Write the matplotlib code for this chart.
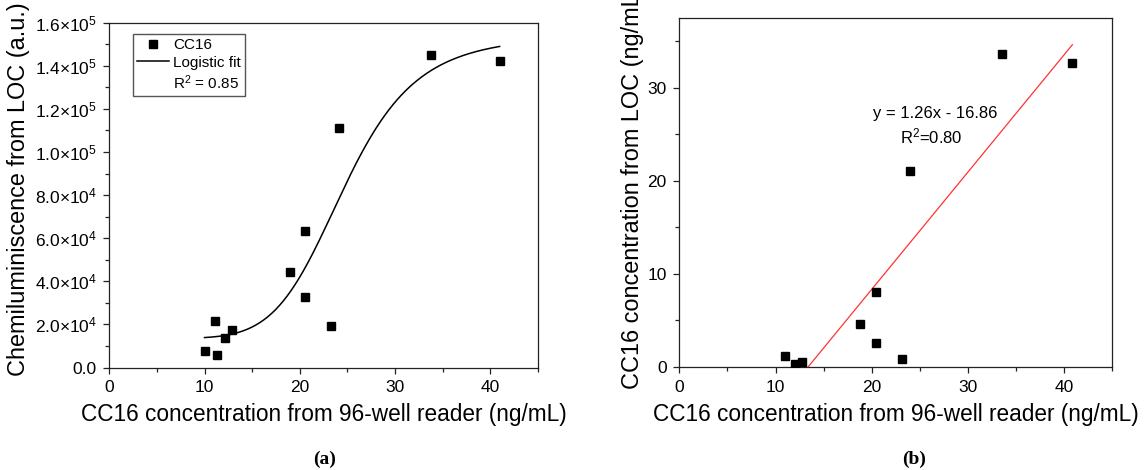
import numpy as np
import matplotlib
matplotlib.use('Agg')
import matplotlib.pyplot as plt
from matplotlib.ticker import MultipleLocator, FuncFormatter
from matplotlib.lines import Line2D

plt.rcParams['font.family'] = ['Liberation Sans', 'DejaVu Sans']
plt.rcParams['mathtext.fontset'] = 'custom'
plt.rcParams['mathtext.rm'] = 'Liberation Sans'
plt.rcParams['mathtext.it'] = 'Liberation Sans:italic'
plt.rcParams['mathtext.bf'] = 'Liberation Sans:bold'

# (a) chemiluminescence vs 96-well reader
reader_a = [10.0, 11.35, 11.1, 12.15, 12.9, 19.0, 20.6, 20.6, 23.3, 24.1, 33.75, 41.0]
chemi_a = [7.5e3, 6.0e3, 2.18e4, 1.35e4, 1.72e4, 4.45e4, 6.32e4, 3.26e4, 1.92e4, 1.113e5, 1.449e5, 1.424e5]
# logistic fit parameters (A1, A2, x0, p)
logi_A1, logi_A2, logi_x0, logi_p = 1.35e4, 1.54e5, 24.7, 6.5
r2_a = 0.85

# (b) LOC concentration vs 96-well reader
reader_b = [11.0, 12.0, 12.7, 18.8, 20.4, 20.4, 23.15, 24.0, 33.55, 40.85]
loc_b = [1.15, 0.32, 0.57, 4.58, 8.09, 2.58, 0.82, 21.0, 33.6, 32.7]
lin_slope, lin_icpt = 1.26, -16.86
r2_b = 0.80

W, H = 1145, 470
fig = plt.figure(figsize=(W / 100, H / 100), dpi=100)
ax1 = fig.add_axes([109.3 / W, 1 - 367.5 / H, 428.4 / W, 344.8 / H])
ax2 = fig.add_axes([679.3 / W, 1 - 367.0 / H, 433.0 / W, 348.7 / H])

tick_fs = 12.5
label_fs = 16.3
ylabel_fs = 16.9


def style(ax):
    for s in ax.spines.values():
        s.set_linewidth(0.9)
        s.set_color('#222222')
    ax.tick_params(which='both', direction='out', top=False, right=False,
                   labelsize=tick_fs, color='#222222', width=0.9)
    ax.tick_params(which='major', length=4.5, pad=4.5)
    ax.tick_params(which='minor', length=2.8)
    ax.set_xlim(0, 45)
    ax.xaxis.set_major_locator(MultipleLocator(10))
    ax.xaxis.set_minor_locator(MultipleLocator(5))


def sci(v, pos):
    if v == 0:
        return '0.0'
    e = int(np.floor(np.log10(abs(v))))
    m = v / 10 ** e
    return r'$%.1f{\times}10^{%d}$' % (m, e)


# panel (a)
style(ax1)
ax1.set_ylim(0, 1.6e5)
ax1.yaxis.set_major_locator(MultipleLocator(2e4))
ax1.yaxis.set_minor_locator(MultipleLocator(1e4))
ax1.yaxis.set_major_formatter(FuncFormatter(sci))
ax1.plot(reader_a, chemi_a, ls='none', marker='s', ms=6, color='black')
xf = np.linspace(min(reader_a), max(reader_a), 300)
yf = logi_A2 + (logi_A1 - logi_A2) / (1 + (xf / logi_x0) ** logi_p)
ax1.plot(xf, yf, color='black', lw=1.1)
ax1.set_xlabel('CC16 concentration from 96-well reader (ng/mL)', fontsize=label_fs, labelpad=6)
fig.text(19 / W, 1 - 189 / H, 'Chemiluminiscence from LOC (a.u.)', rotation=90,
         ha='center', va='center', fontsize=ylabel_fs)

handles = [Line2D([], [], ls='none', marker='s', ms=6, color='black'),
           Line2D([], [], color='black', lw=1.1),
           Line2D([], [], ls='none')]
labels = ['CC16', 'Logistic fit', 'R$^2$ = %.2f' % r2_a]
leg = ax1.legend(handles, labels, loc='upper left', bbox_to_anchor=(0.0546, 0.967),
                 borderaxespad=0, fontsize=11, fancybox=False, framealpha=1,
                 edgecolor='#555555', borderpad=0.25, labelspacing=0.25,
                 handlelength=2.1, handletextpad=0.3)
leg.get_frame().set_linewidth(1.0)

# panel (b)
style(ax2)
ax2.set_ylim(0, 37.45)
ax2.yaxis.set_major_locator(MultipleLocator(10))
ax2.yaxis.set_minor_locator(MultipleLocator(5))
ax2.plot(reader_b, loc_b, ls='none', marker='s', ms=6, color='black', zorder=3)
xl = np.array([min(reader_b), max(reader_b)])
ax2.plot(xl, lin_slope * xl + lin_icpt, color='#ff3333', lw=0.9)
ax2.text(26.6, 27.25, 'y = %.2fx - %.2f' % (lin_slope, -lin_icpt), ha='center', va='center', fontsize=12)
ax2.text(26.15, 24.74, 'R$^2$=%.2f' % r2_b, ha='center', va='center', fontsize=12)
ax2.set_xlabel('CC16 concentration from 96-well reader (ng/mL)', fontsize=label_fs, labelpad=6)
fig.text(633 / W, 1 - 389 / H, 'CC16 concentration from LOC (ng/mL)', rotation=90,
         ha='center', va='bottom', fontsize=ylabel_fs)

fig.text(325 / W, 1 - 459 / H, '(a)', ha='center', va='center', fontsize=14,
         fontweight='bold', family='Liberation Serif')
fig.text(914 / W, 1 - 459 / H, '(b)', ha='center', va='center', fontsize=14,
         fontweight='bold', family='Liberation Serif')

fig.savefig('out.png', dpi=100)
